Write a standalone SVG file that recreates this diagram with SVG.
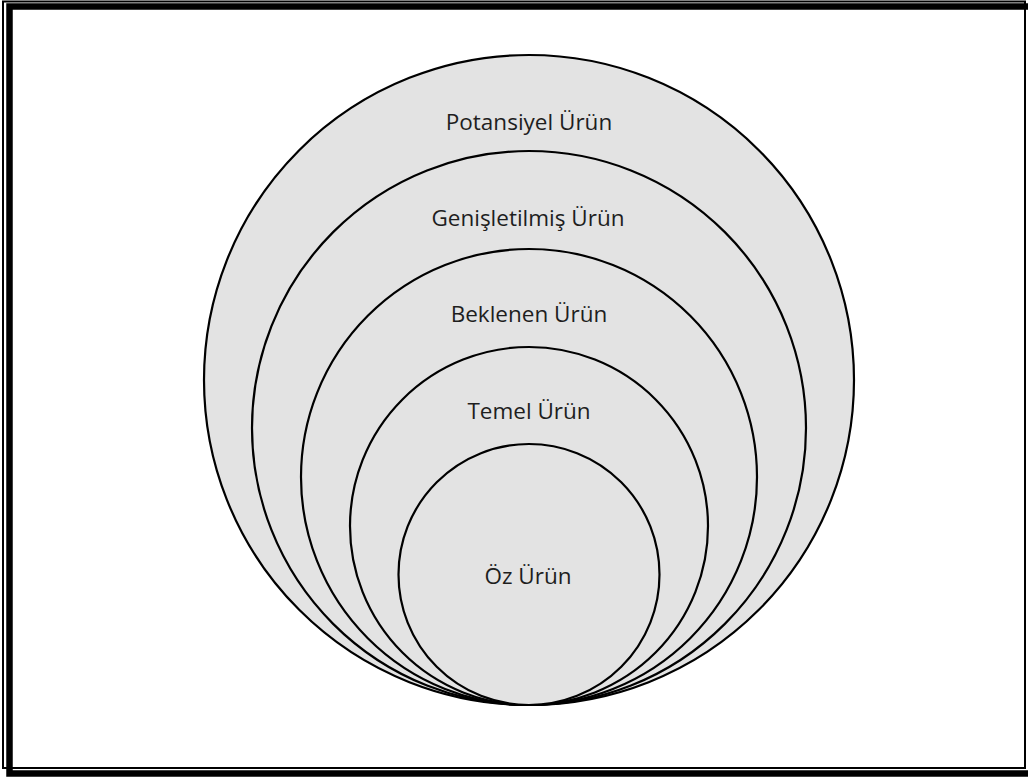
<svg xmlns="http://www.w3.org/2000/svg" width="1028" height="778" viewBox="0 0 1028 778">
  <style>
    .ring { fill: #e3e3e3; stroke: #000; stroke-width: 2.2; }
    .label { font-family: "Open Sans", "Liberation Sans", sans-serif; font-size: 22.5px; fill: #1e1e1e; text-anchor: middle; }
    .frame-thick { fill: none; stroke: #000; stroke-width: 6.5; }
    .frame-thin { fill: none; stroke: #000; stroke-width: 2; }
  </style>
  <rect width="1028" height="778" fill="#fff"/>
  <!-- page frame: thin line with thick offset line -->
  <g id="frame">
    <rect class="frame-thick" x="9.5" y="6.5" width="1030" height="767"/>
    <rect class="frame-thin" x="3" y="1.5" width="1022" height="766.5"/>
  </g>
  <!-- nested product levels, all touching at the bottom -->
  <g id="potansiyel">
    <circle class="ring" cx="529" cy="380" r="325"/>
    <text class="label" x="529" y="130">Potansiyel Ürün</text>
  </g>
  <g id="genisletilmis">
    <circle class="ring" cx="529" cy="428" r="277"/>
    <text class="label" x="528" y="226">Genişletilmiş Ürün</text>
  </g>
  <g id="beklenen">
    <circle class="ring" cx="529" cy="477" r="228"/>
    <text class="label" x="529" y="322">Beklenen Ürün</text>
  </g>
  <g id="temel">
    <circle class="ring" cx="529" cy="526" r="179"/>
    <text class="label" x="529" y="419">Temel Ürün</text>
  </g>
  <g id="oz">
    <circle class="ring" cx="529" cy="574.5" r="130.5"/>
    <text class="label" x="528" y="584">Öz Ürün</text>
  </g>
  <g id="connectors"/>
</svg>
